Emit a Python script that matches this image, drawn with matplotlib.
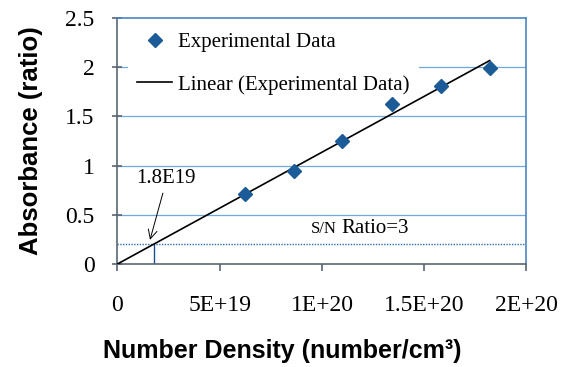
import numpy as np
import matplotlib
matplotlib.use("Agg")
import matplotlib.pyplot as plt

# data
density = [6.25e19, 8.65e19, 1.10e20, 1.34e20, 1.58e20, 1.82e20]
absorbance = [0.71, 0.95, 1.25, 1.63, 1.81, 1.99]
xticks = [0, 5e19, 1e20, 1.5e20, 2e20]
xticklabels = ["0", "5E+19", "1E+20", "1.5E+20", "2E+20"]
yticks = [0, 0.5, 1, 1.5, 2, 2.5]
yticklabels = ["0", "0.5", "1", "1.5", "2", "2.5"]
sn_level = 0.2
detection_limit = 1.8e19

x = np.array(density)
y = np.array(absorbance)
slope = np.sum(x * y) / np.sum(x * x)  # linear trend through origin

serif = "Liberation Serif"
sans = "Liberation Sans"

fig = plt.figure(figsize=(5.64, 3.67), dpi=100)
ax = fig.add_axes([0.2083, 0.2807, 0.7252, 0.6703])
ax.set_xlim(0, 2e20)
ax.set_ylim(0, 2.5)

grid_c = "#6fa8dc"
for t in yticks[1:-1]:
    ax.axhline(t, color=grid_c, lw=0.9, zorder=1)

# S/N line
ax.axhline(sn_level, color="#2a6db5", lw=1.0, ls=(0, (1, 1)), zorder=2)
ax.plot([detection_limit, detection_limit], [0, sn_level], color="#1f4e8c", lw=1.0, zorder=2)

# trend line
xl = np.array([0, x.max()])
ln, = ax.plot(xl, slope * xl, color="black", lw=1.2, zorder=3,
              label="Linear (Experimental Data)")
sc, = ax.plot(x, y, ls="none", marker="D", ms=7, color="#1b5b97",
              zorder=4, label="Experimental Data")

leg = ax.legend(handles=[sc, ln], loc="upper left", bbox_to_anchor=(0.025, 0.98),
                frameon=True, fancybox=False, edgecolor="none", facecolor="white",
                framealpha=1, prop={"family": serif, "size": 15},
                handlelength=1.7, handletextpad=0.25, labelspacing=1.1,
                borderpad=0.45, borderaxespad=0.0)
leg.set_zorder(1.5)

ax.text(0.9e19, 0.87, "1.8E19", fontfamily=serif, fontsize=15, ha="left", va="center")
ax.annotate("", xy=(1.59e19, 0.245), xytext=(2.22e19, 0.72), textcoords="data",
            arrowprops=dict(arrowstyle="->", color="black", lw=0.7,
                            shrinkA=0, shrinkB=0, mutation_scale=16))
ax.text(9.46e19, 0.318, "S/N", fontfamily=serif, fontsize=12, ha="left", va="baseline")
ax.text(1.096e20, 0.318, "Ratio=3", fontfamily=serif, fontsize=15, ha="left", va="baseline")

ax.set_xticks(xticks)
ax.set_xticklabels(xticklabels, fontfamily=serif, fontsize=17)
ax.set_yticks(yticks)
ax.set_yticklabels(yticklabels, fontfamily=serif, fontsize=17)
ax.tick_params(axis="x", direction="out", length=5, width=1.2, color="#5a6670", pad=17)
ax.tick_params(axis="y", direction="inout", length=7, width=1.2, color="#5a6670", pad=13)

for s in ["left", "bottom"]:
    ax.spines[s].set_color("#5a6670")
    ax.spines[s].set_linewidth(1.2)
for s in ["right", "top"]:
    ax.spines[s].set_color("#4a86c5")
    ax.spines[s].set_linewidth(1.2)

ax.set_xlabel("Number Density (number/cm³)", fontfamily=sans, fontweight="bold",
              fontsize=18, labelpad=17)
ax.xaxis.label.set_x(0.402)
ax.set_ylabel("Absorbance (ratio)", fontfamily=sans, fontweight="bold",
              fontsize=18.5, labelpad=16)

fig.savefig("out.png", dpi=100)
